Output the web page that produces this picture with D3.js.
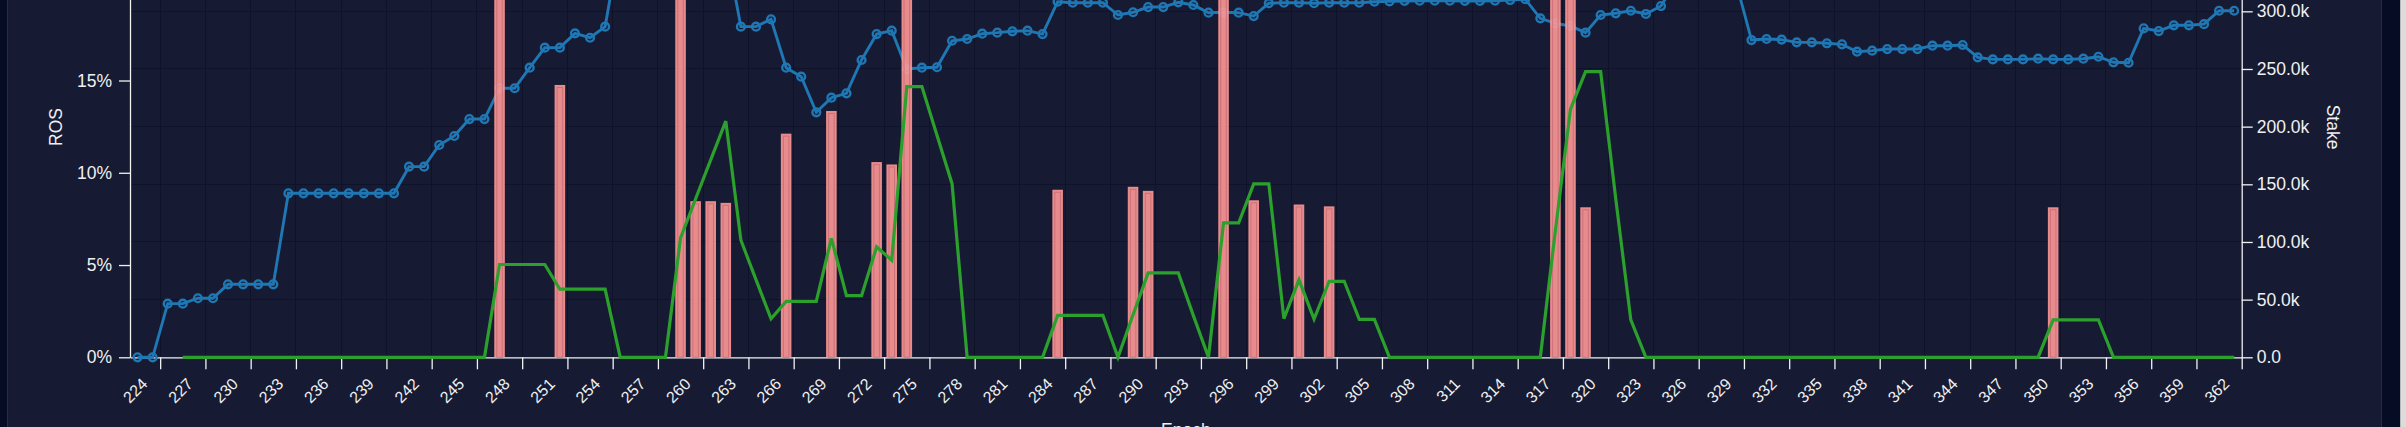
<!DOCTYPE html>
<html>
<head>
<meta charset="utf-8">
<script src="https://cdn.jsdelivr.net/npm/d3@7"></script>
<style>
  html, body { margin: 0; padding: 0; background: #060c24; overflow: hidden; }
  svg { display: block; }
  text { font-family: "Liberation Sans", Arial, Helvetica, sans-serif; fill: #f0f0f0; }
</style>
</head>
<body>
<svg id="chart" width="2406" height="427"></svg>
<script>
// ---------------- DATA ----------------
const epochs = d3.range(223, 363); // 223 .. 362
const xTickLabels = d3.range(224, 363, 3); // 224, 227, ..., 362

// Stake (ADA, in thousands) per epoch - blue line
const stakeK = [
  0, 0, 46.5, 46.5, 51.2, 51.2, 63.3, 63.3, 63.3, 63.3,
  142.2, 142.2, 142.2, 142.2, 142.2, 142.2, 142.2, 142.2,
  165.3, 165.3, 184.1, 191.9, 206.6, 206.6, 233.3, 233.3, 251.1, 268.5, 268.5, 280.9, 277.1, 286.7,
  362, 360, 358, 358, 357, 356, 356, 356,
  286.7, 286.7, 293.1, 251.1, 243.3, 212.4, 225.1, 228.9, 257.8, 280.3, 283.2, 250.0, 251.1, 251.5,
  274.5, 276.0, 280.6, 281.5, 282.7, 283.2, 280.3,
  308.3, 307.5, 307.5, 307.5, 296.8, 299.2, 303.7, 303.7, 307.8, 305.5, 298.8, 299.2, 298.8, 295.9,
  307.0, 307.5, 307.5, 307.0, 307.5, 307.5, 307.5, 308.3, 308.6, 309.0, 309.2, 309.2, 309.2, 309.0,
  309.0, 309.2, 309.8, 310.5, 293.9, 289.6, 287.3, 281.5, 296.8, 298.3, 300.5, 297.7, 304.6,
  326, 326, 325, 325, 324,
  275.1, 276.0, 275.5, 273.1, 273.1, 272.3, 271.4, 265.0, 265.9, 267.3, 267.3, 267.3, 270.2, 270.2,
  270.8, 260.1, 258.3, 258.3, 258.3, 258.9, 258.3, 258.3, 258.9, 260.6, 255.8, 255.4, 285.3, 282.9,
  287.9, 287.9, 288.9, 300.5, 300.5
];

// ROS (%) averaged - green line (starts at 4th epoch)
const rosAvg = [
  null, null, null,
  0, 0, 0, 0, 0, 0, 0, 0, 0, 0, 0, 0, 0, 0, 0, 0, 0, 0, 0, 0, 0,
  5.03, 5.03, 5.03, 5.03, 3.69, 3.69, 3.69, 3.69, 0, 0, 0, 0,
  6.47, 8.59, 10.7, 12.8, 6.35, 4.21, 2.09, 3.03, 3.03, 3.03, 6.45, 3.34, 3.34, 5.98, 5.26,
  14.67, 14.67, 12.03, 9.41, 0, 0, 0, 0, 0, 0, 2.27, 2.27, 2.27, 2.27, 0,
  2.31, 4.57, 4.57, 4.57, 2.26, 0, 7.28, 7.28, 9.4, 9.4, 2.1, 4.2, 2.07, 4.12, 4.12, 2.05, 2.05,
  0, 0, 0, 0, 0, 0, 0, 0, 0, 0, 0,
  6.88, 13.45, 15.48, 15.48, 8.6, 2.03,
  0, 0, 0, 0, 0, 0, 0, 0, 0, 0, 0, 0, 0, 0, 0, 0, 0, 0, 0, 0, 0, 0, 0, 0, 0, 0, 0,
  2.03, 2.03, 2.03, 2.03,
  0, 0, 0, 0, 0, 0, 0, 0, 0
];

// ROS (%) per epoch - bars
const barEpochs = [247, 251, 259, 260, 261, 262, 266, 269, 272, 273, 274, 284, 289, 290, 295, 297, 300, 302, 317, 318, 319, 350];
const barRos    = [20.1, 14.76, 25.9, 8.46, 8.46, 8.37, 12.12, 13.35, 10.58, 10.45, 37.6, 9.08, 9.24, 9.02, 29.1, 8.51, 8.28, 8.18, 27.5, 26.3, 8.13, 8.13];

// tick values that fall inside the visible window
const rosTicks = [0, 5, 10, 15];
const stakeTicks = [0, 50000, 100000, 150000, 200000, 250000, 300000];

// ---------------- LAYOUT ----------------
const W = 2406, H = 427;
const pL = 130, pR = 2241.7, pT = -104, pB = 357.3;

const svg = d3.select("#chart");

// page / card background
svg.append("rect").attr("x", 0).attr("y", 0).attr("width", W).attr("height", H).attr("fill", "#060c24");
svg.append("rect").attr("x", 7.5).attr("y", -20).attr("width", 2374).attr("height", 480)
  .attr("fill", "#161b33").attr("stroke", "#262c48").attr("stroke-width", 1);
svg.append("rect").attr("x", 2400).attr("y", 0).attr("width", 6).attr("height", H).attr("fill", "#dcdcdc");
svg.append("rect").attr("x", 2400).attr("y", 0).attr("width", 1).attr("height", H).attr("fill", "#b8b8b8");

// scales
const xBand = d3.scaleBand().domain(epochs).range([pL, pR]).paddingInner(0.3).paddingOuter(0.15);
const xC = e => xBand(e) + xBand.bandwidth() / 2;
const xLin = d3.scaleLinear().domain([222.5, 362.5]).range([pL, pR]);
const yRos = d3.scaleLinear().domain([0, 25]).range([pB, pT]);
const yStake = d3.scaleLinear().domain([0, 400000]).range([pB, pT]);

// grid
const grid = svg.append("g").attr("stroke", "#0f1329").attr("stroke-width", 1).attr("shape-rendering", "crispEdges");
grid.selectAll("line.h").data(stakeTicks.slice(1)).join("line").attr("class", "h")
  .attr("x1", pL).attr("x2", pR).attr("y1", d => yStake(d)).attr("y2", d => yStake(d));
grid.selectAll("line.v").data(xTickLabels).join("line").attr("class", "v")
  .attr("x1", d => xLin(d + 0.5)).attr("x2", d => xLin(d + 0.5)).attr("y1", pT).attr("y2", pB);

// axes
function styleAxis(g) {
  g.selectAll("path, line").attr("stroke", "#f2f2f2").attr("stroke-width", 1.3);
  g.selectAll("text").style("fill", "#f0f0f0").attr("font-family", null);
}
const axL = svg.append("g").attr("transform", `translate(${pL},0)`)
  .call(d3.axisLeft(yRos).tickValues(rosTicks).tickFormat(d => d + "%").tickSize(11).tickPadding(7).tickSizeOuter(0))
  .call(styleAxis);
axL.selectAll("text").attr("font-size", 17.5);

const axR = svg.append("g").attr("transform", `translate(${pR},0)`)
  .call(d3.axisRight(yStake).tickValues(stakeTicks)
    .tickFormat(d => d === 0 ? "0.0" : (d / 1000).toFixed(1) + "k").tickSize(11).tickPadding(4).tickSizeOuter(0))
  .call(styleAxis);
axR.selectAll("text").attr("font-size", 17.5);

const axB = svg.append("g").attr("transform", `translate(0,${pB})`)
  .call(d3.axisBottom(xLin).tickValues(xTickLabels.map(d => d + 0.5)).tickFormat(d => String(d - 0.5))
    .tickSize(12).tickSizeOuter(0))
  .call(styleAxis);
axB.selectAll("text")
  .attr("font-size", 16)
  .attr("y", 0).attr("x", 0).attr("dy", 0)
  .attr("text-anchor", "end")
  .attr("transform", "translate(-12,27.7) rotate(-45)");

// axis titles
svg.append("text").attr("transform", `translate(61.7,127) rotate(-90)`)
  .attr("text-anchor", "middle").attr("font-size", 17.5).text("ROS");
svg.append("text").attr("transform", `translate(2327,127) rotate(90)`)
  .attr("text-anchor", "middle").attr("font-size", 17.5).text("Stake");
svg.append("text").attr("x", (pL + pR) / 2).attr("y", 436)
  .attr("text-anchor", "middle").attr("font-size", 17.5).text("Epoch");

// blue stake line
const stakePts = epochs.map((e, i) => ({ e, v: stakeK[i] * 1000 }));
svg.append("path").datum(stakePts)
  .attr("fill", "none").attr("stroke", "#1f77b4").attr("stroke-width", 2.9)
  .attr("d", d3.line().x(d => xC(d.e)).y(d => yStake(d.v)));
svg.append("g").selectAll("circle").data(stakePts).join("circle")
  .attr("cx", d => xC(d.e)).attr("cy", d => yStake(d.v)).attr("r", 3.9)
  .attr("fill", "none").attr("stroke", "#1f77b4").attr("stroke-width", 2.4);

// bars
const bars = barEpochs.map((e, i) => ({ e, v: barRos[i] }));
const bw = xBand.bandwidth();
const barG = svg.append("g");
barG.selectAll("rect.bar").data(bars).join("rect").attr("class", "bar")
  .attr("x", d => xBand(d.e)).attr("width", bw)
  .attr("y", d => yRos(d.v)).attr("height", d => pB - yRos(d.v))
  .attr("fill", "#ff9896").attr("fill-opacity", 0.9);
barG.selectAll("rect.inner").data(bars).join("rect").attr("class", "inner")
  .attr("x", d => xBand(d.e) + 2.5).attr("width", bw - 5)
  .attr("y", d => yRos(d.v) + 2.5).attr("height", d => Math.max(0, pB - yRos(d.v) - 2.5))
  .attr("fill", "none").attr("stroke", "#b8606a").attr("stroke-opacity", 0.6).attr("stroke-width", 1);

// green ROS line
const rosPts = epochs.map((e, i) => ({ e, v: rosAvg[i] }));
svg.append("path").datum(rosPts)
  .attr("fill", "none").attr("stroke", "#2ca02c").attr("stroke-width", 3.2)
  .attr("d", d3.line().defined(d => d.v !== null).x(d => xC(d.e)).y(d => yRos(d.v)));
</script>
</body>
</html>
